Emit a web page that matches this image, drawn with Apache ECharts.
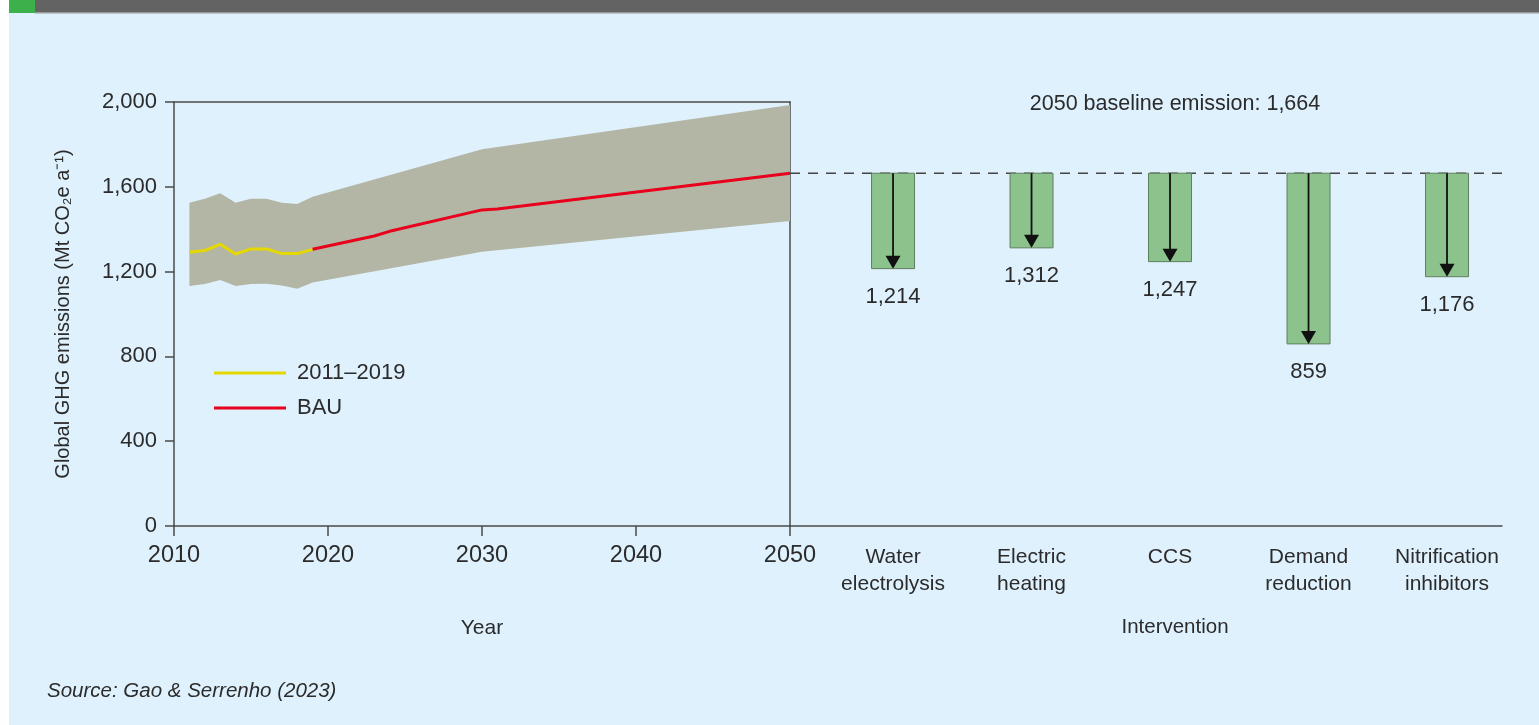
<!DOCTYPE html>
<html>
<head>
<meta charset="utf-8">
<script src="https://cdn.jsdelivr.net/npm/echarts@6/dist/echarts.min.js"></script>
<style>
html,body{margin:0;padding:0;background:#fff;}
#chart{width:1539px;height:725px;}
</style>
</head>
<body>
<div id="chart"></div>
<script>
// ---- data ----
const histYears = [2011, 2012, 2013, 2014, 2015, 2016, 2017, 2018, 2019];
const histValues = [1291, 1299, 1329, 1283, 1307, 1307, 1285, 1285, 1305];
const bauYears = [2019, 2023, 2024, 2030, 2031, 2050];
const bauValues = [1305, 1368, 1390, 1491, 1495, 1664];
const bandYears = [2011, 2012, 2013, 2014, 2015, 2016, 2017, 2018, 2019, 2030, 2050];
const bandUpper = [1525, 1544, 1569, 1525, 1544, 1544, 1525, 1519, 1553, 1777, 1986];
const bandLower = [1132, 1142, 1160, 1132, 1142, 1143, 1134, 1119, 1149, 1294, 1439];
const interventions = ['Water\nelectrolysis', 'Electric\nheating', 'CCS', 'Demand\nreduction', 'Nitrification\ninhibitors'];
const interventionValues = [1214, 1312, 1247, 859, 1176];
const baseline = 1664;
const yTicks = [0, 400, 800, 1200, 1600, 2000];
const xTicks = [2010, 2020, 2030, 2040, 2050];

const fmt = v => String(Math.round(v)).replace(/\B(?=(\d{3})+(?!\d))/g, ',');
const NARROW = '"Liberation Sans Narrow", "Liberation Sans", Arial, sans-serif';
const SANS = '"Liberation Sans", Arial, sans-serif';
const TXT = '#2b2b2b';
const AX = '#4a4a4a';

const chart = echarts.init(document.getElementById('chart'));

const option = {
  backgroundColor: '#ffffff',
  animation: false,
  graphic: [
    {type: 'rect', z: -10, shape: {x: 9, y: 12, width: 1530, height: 713}, style: {fill: '#dff1fd'}},
    {type: 'rect', z: -10, shape: {x: 35, y: 0, width: 1504, height: 12}, style: {fill: '#636363'}},
    {type: 'rect', z: -10, shape: {x: 35, y: 12, width: 1504, height: 1.5}, style: {fill: '#9a9a9a'}},
    {type: 'rect', z: -10, shape: {x: 9, y: 0, width: 26, height: 13}, style: {fill: '#3bb04b'}},
    {type: 'text', left: 47, top: 681, style: {text: 'Source: Gao & Serrenho (2023)', font: 'italic 20.5px ' + SANS, fill: TXT}}
  ],
  title: [
    {text: '2050 baseline emission: ' + fmt(baseline), left: 1170, top: 88, textAlign: 'center',
     textStyle: {fontFamily: NARROW, fontSize: 21.5, fontWeight: 'normal', color: TXT}},
    {text: 'Intervention', left: 1170, top: 612, textAlign: 'center',
     textStyle: {fontFamily: NARROW, fontSize: 20.5, fontWeight: 'normal', color: TXT}}
  ],
  legend: {
    orient: 'vertical', left: 209, top: 356, itemWidth: 72, itemHeight: 3, itemGap: 11,
    icon: 'rect',
    textStyle: {fontFamily: SANS, fontSize: 22, color: TXT, lineHeight: 24, padding: [0, 0, 0, 6]},
    data: ['2011–2019', 'BAU']
  },
  grid: [
    {left: 174, top: 102, width: 616, height: 424},
    {left: 790, top: 102, width: 712, height: 424}
  ],
  xAxis: [
    {type: 'value', gridIndex: 0, min: xTicks[0], max: xTicks[xTicks.length - 1], interval: 10,
     name: 'Year', nameLocation: 'middle', nameGap: 92,
     nameTextStyle: {fontFamily: NARROW, fontSize: 21, color: TXT},
     axisLine: {show: true, onZero: false, lineStyle: {color: AX, width: 1.5}},
     axisTick: {show: true, length: 10, lineStyle: {color: AX, width: 1.5}},
     axisLabel: {margin: 18, fontFamily: NARROW, fontSize: 23.5, color: TXT, formatter: v => String(v)},
     splitLine: {show: false}},
    {type: 'value', gridIndex: 0, position: 'top', min: xTicks[0], max: xTicks[xTicks.length - 1],
     axisLine: {show: true, onZero: false, lineStyle: {color: AX, width: 1.5}},
     axisTick: {show: false}, axisLabel: {show: false}, splitLine: {show: false}},
    {type: 'value', gridIndex: 1, min: -0.744, max: 4.397,
     axisLine: {show: true, onZero: false, lineStyle: {color: AX, width: 1.5}},
     axisTick: {show: false},
     axisLabel: {show: true, customValues: interventions.map((_, i) => i), margin: 18,
       fontFamily: NARROW, fontSize: 21, color: TXT, lineHeight: 27,
       formatter: v => interventions[Math.round(v)] || ''},
     splitLine: {show: false}}
  ],
  yAxis: [
    {type: 'value', gridIndex: 0, min: yTicks[0], max: yTicks[yTicks.length - 1], interval: 400,
     name: 'Global GHG emissions (Mt CO₂e a⁻¹)', nameLocation: 'middle', nameGap: 101,
     nameTextStyle: {fontFamily: SANS, fontSize: 20, color: TXT},
     axisLine: {show: true, onZero: false, lineStyle: {color: AX, width: 1.5}},
     axisTick: {show: true, length: 9, lineStyle: {color: AX, width: 1.5}},
     axisLabel: {margin: 17, fontFamily: SANS, fontSize: 22, color: TXT, formatter: v => fmt(v)},
     splitLine: {show: false}},
    {type: 'value', gridIndex: 0, position: 'right', min: yTicks[0], max: yTicks[yTicks.length - 1],
     axisLine: {show: true, onZero: false, lineStyle: {color: AX, width: 1.5}},
     axisTick: {show: false}, axisLabel: {show: false}, splitLine: {show: false}},
    {type: 'value', gridIndex: 1, min: yTicks[0], max: yTicks[yTicks.length - 1], show: false}
  ],
  series: [
    {
      type: 'custom', name: 'band', xAxisIndex: 0, yAxisIndex: 0, z: 1,
      data: [[bandYears[0], bandUpper[0]]],
      renderItem: (params, api) => {
        const pts = [];
        for (let i = 0; i < bandYears.length; i++) pts.push(api.coord([bandYears[i], bandUpper[i]]));
        for (let i = bandYears.length - 1; i >= 0; i--) pts.push(api.coord([bandYears[i], bandLower[i]]));
        return {type: 'polygon', shape: {points: pts}, style: {fill: '#b3b6a4'}};
      }
    },
    {
      type: 'line', name: '2011–2019', xAxisIndex: 0, yAxisIndex: 0, z: 3,
      data: histYears.map((y, i) => [y, histValues[i]]),
      symbol: 'none', lineStyle: {color: '#e5d800', width: 3}, itemStyle: {color: '#e5d800'}
    },
    {
      type: 'line', name: 'BAU', xAxisIndex: 0, yAxisIndex: 0, z: 4,
      data: bauYears.map((y, i) => [y, bauValues[i]]),
      symbol: 'none', lineStyle: {color: '#e8001c', width: 3}, itemStyle: {color: '#e8001c'}
    },
    {
      type: 'line', name: 'baseline', xAxisIndex: 2, yAxisIndex: 2, z: 2,
      data: [[-0.744, baseline], [4.397, baseline]],
      symbol: 'none', lineStyle: {color: '#444', width: 1.5, type: [10, 8]}, silent: true
    },
    {
      type: 'custom', name: 'interventions', xAxisIndex: 2, yAxisIndex: 2, z: 5,
      data: interventionValues.map((v, i) => [i, v]),
      renderItem: (params, api) => {
        const i = api.value(0), v = api.value(1);
        const top = api.coord([i, baseline]);
        const bot = api.coord([i, v]);
        const w = 43, cx = top[0];
        return {type: 'group', children: [
          {type: 'rect', shape: {x: cx - w / 2, y: top[1], width: w, height: bot[1] - top[1]},
           style: {fill: '#8cc28b', stroke: '#5f7f5f', lineWidth: 1}},
          {type: 'line', shape: {x1: cx, y1: top[1], x2: cx, y2: bot[1] - 10},
           style: {stroke: '#111', lineWidth: 1.8}},
          {type: 'polygon', shape: {points: [[cx - 7.5, bot[1] - 13], [cx + 7.5, bot[1] - 13], [cx, bot[1]]]},
           style: {fill: '#111'}},
          {type: 'text', style: {text: fmt(v), x: cx, y: bot[1] + 17, align: 'center', verticalAlign: 'top',
           font: '22px ' + NARROW, fill: TXT}}
        ]};
      }
    }
  ]
};
chart.setOption(option);
</script>
</body>
</html>
